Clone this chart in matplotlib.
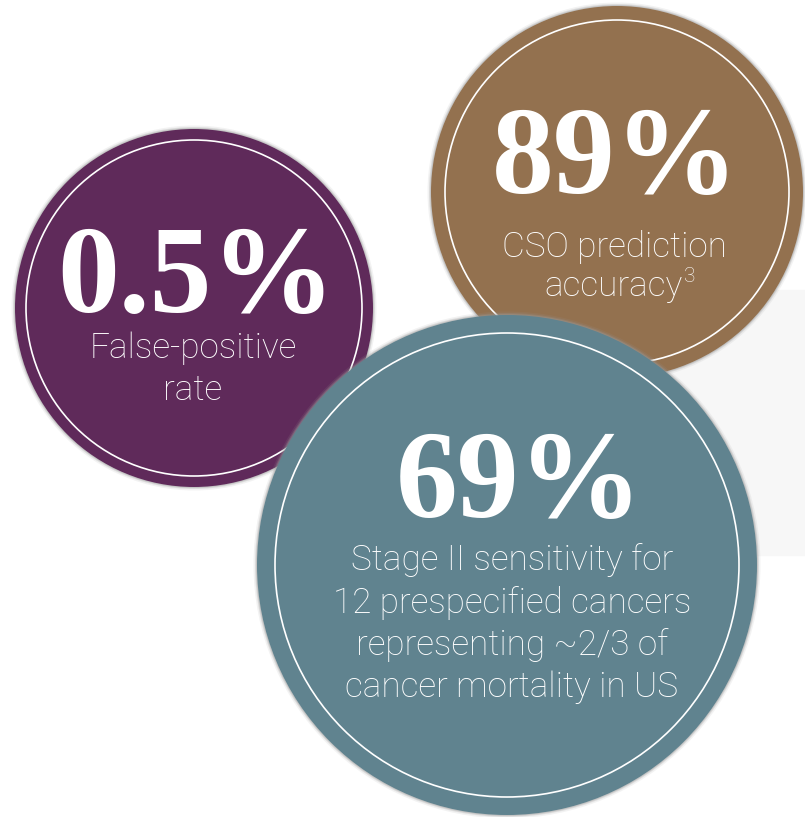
import matplotlib
matplotlib.use('Agg')
import matplotlib.pyplot as plt
from matplotlib.patches import Circle, Rectangle

# stat bubbles
values = ['0.5%', '89%', '69%']
captions = [
    ['False-positive', 'rate'],
    ['CSO prediction', 'accuracy'],
    ['Stage II sensitivity for', '12 prespecified cancers',
     'representing ~2/3 of', 'cancer mortality in US'],
]
footnotes = [None, '3', None]
colors = ['#5f2a5a', '#93714f', '#60838f']

# layout in pixel units (y grows downward)
centers = [(194, 308), (617, 192), (507, 565)]
radii = [179, 186, 250]
ring_gap = [11, 14, 18]
value_base = [312, 193, 517]
value_x = [196, 615, 519]
caption_base = [358, 257, 570]
caption_x = [193, 614, 512]
line_step = [42, 39, 42.5]

W, H = 805, 817
fig = plt.figure(figsize=(W / 100, H / 100), dpi=100)
ax = fig.add_axes([0, 0, 1, 1])
ax.set_xlim(0, W)
ax.set_ylim(H, 0)
ax.set_aspect('equal')
ax.axis('off')

# light panel behind the right side
ax.add_patch(Rectangle((600, 290), 205, 265, color='#f7f7f7', zorder=0))

for i in range(3):
    cx, cy = centers[i]
    r = radii[i]
    z = 2 + i * 3
    # soft edge shadow
    for dr, a in [(3.5, 0.12), (2, 0.25), (1, 0.35)]:
        ax.add_patch(Circle((cx, cy), r + dr, color='#9a9a9a', alpha=a, lw=0, zorder=z))
    ax.add_patch(Circle((cx, cy), r, color=colors[i], lw=0, zorder=z + 0.5))
    ax.add_patch(Circle((cx, cy), r - ring_gap[i], fill=False, ec='white', lw=1.2, zorder=z + 1))

    ax.text(value_x[i], value_base[i], values[i], ha='center', va='baseline',
            fontsize=89, fontweight='bold', family='Liberation Serif',
            color='white', zorder=z + 2)
    for j, line in enumerate(captions[i]):
        t = ax.text(caption_x[i], caption_base[i] + j * line_step[i], line,
                    ha='center', va='baseline', fontsize=25.3, fontweight='light',
                    family='Roboto', color='white', zorder=z + 2)
    if footnotes[i]:
        fig.canvas.draw()
        bb = t.get_window_extent().transformed(ax.transData.inverted())
        ax.text(bb.x1 + 1, caption_base[i] + (len(captions[i]) - 1) * line_step[i] - 14,
                footnotes[i], ha='left', va='baseline', fontsize=15,
                fontweight='light', family='Roboto', color='white', zorder=z + 2)

fig.savefig('out.png', dpi=100, facecolor='white')
